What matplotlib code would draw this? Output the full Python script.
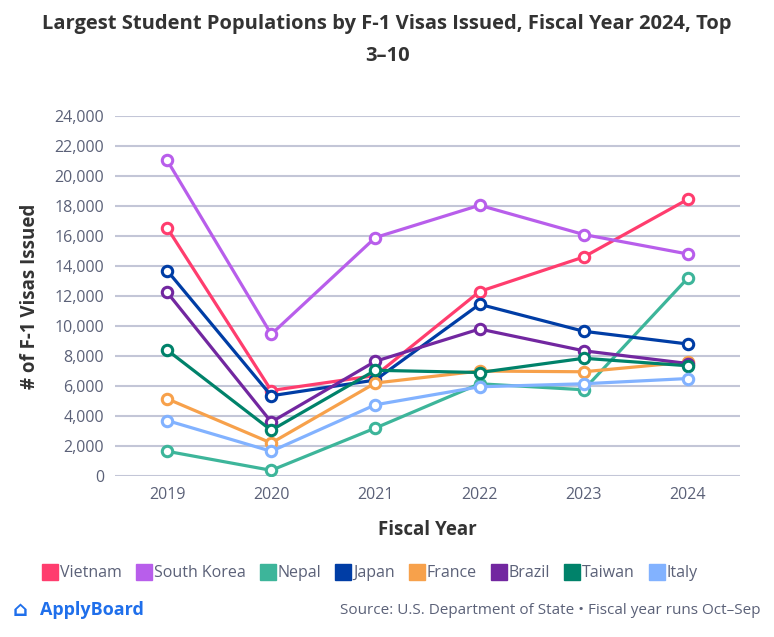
import matplotlib.pyplot as plt
from matplotlib.lines import Line2D

# ---------------------------------------------------------------------------
# Data
# ---------------------------------------------------------------------------
years = ["2019", "2020", "2021", "2022", "2023", "2024"]

vietnam = [16550, 5700, 6700, 12300, 14600, 18450]
south_korea = [21050, 9450, 15900, 18050, 16100, 14800]
nepal = [1650, 380, 3200, 6150, 5750, 13200]
japan = [13700, 5350, 6400, 11450, 9650, 8800]
france = [5150, 2200, 6200, 7000, 6950, 7600]
brazil = [12250, 3600, 7650, 9800, 8350, 7500]
taiwan = [8400, 3050, 7050, 6900, 7850, 7350]
italy = [3700, 1650, 4750, 5950, 6150, 6500]

countries = ["Vietnam", "South Korea", "Nepal", "Japan", "France", "Brazil", "Taiwan", "Italy"]
series = [vietnam, south_korea, nepal, japan, france, brazil, taiwan, italy]
colors = ["#FF3D6E", "#B85EEB", "#3DB59A", "#003DA5", "#F7A14B", "#7227A0", "#00826A", "#82B2FF"]

TEXT = "#5B6178"
GRID = "#C3C6D7"

plt.rcParams["font.family"] = ["Open Sans", "DejaVu Sans"]

fig = plt.figure(figsize=(7.74, 6.37), dpi=100)
ax = fig.add_axes([0.1486, 0.2527, 0.956 - 0.1486, 0.8179 - 0.2527])

x = list(range(len(years)))
for name, vals, c in zip(countries, series, colors):
    ax.plot(x, vals, color=c, lw=2.3, marker="o", ms=7.5, mfc="white",
            mec=c, mew=2.2, zorder=3, label=name)

ax.set_xlim(-0.5, len(years) - 0.5)
ax.set_ylim(0, 24000)
ax.set_yticks(range(0, 24001, 2000))
ax.set_yticklabels([f"{v:,}" for v in range(0, 24001, 2000)])
ax.set_xticks(x)
ax.set_xticklabels(years)
ax.grid(axis="y", color=GRID, lw=1.5, zorder=0)
ax.set_axisbelow(True)
for s in ax.spines.values():
    s.set_visible(False)
ax.tick_params(length=0, labelsize=11.5, colors=TEXT, pad=8)
ax.tick_params(axis="x", pad=8)

ax.set_ylabel("# of F-1 Visas Issued", fontsize=13.5, fontweight="bold", color="#333333", labelpad=10)
ax.set_xlabel("Fiscal Year", fontsize=13.5, fontweight="bold", color="#333333", labelpad=12)

fig.text(0.5, 0.962, "Largest Student Populations by F-1 Visas Issued, Fiscal Year 2024, Top",
         ha="center", va="center", fontsize=14.5, fontweight="bold", color="#333333")
fig.text(0.5, 0.912, "3\u201310", ha="center", va="center", fontsize=14.5,
         fontweight="bold", color="#333333")

# legend with square swatches
handles = [Line2D([0], [0], marker="s", ls="none", ms=11, mfc=c, mec=c) for c in colors]
fig.legend(handles, countries, loc="center", bbox_to_anchor=(0.478, 0.1), ncol=8,
           frameon=False, fontsize=11.5, labelcolor=TEXT, handletextpad=0.1,
           columnspacing=0.9, handlelength=1.0)

# footer
fig.text(0.052, 0.042, "ApplyBoard", ha="left", va="center", fontsize=13,
         fontweight="bold", color="#1F6FEB")
fig.text(0.016, 0.042, "\u2302", ha="left", va="center", fontsize=15,
         fontweight="bold", color="#1F6FEB")
fig.text(0.982, 0.042, "Source: U.S. Department of State \u2022 Fiscal year runs Oct\u2013Sep",
         ha="right", va="center", fontsize=11, color=TEXT)

fig.savefig("out.png", dpi=100)
